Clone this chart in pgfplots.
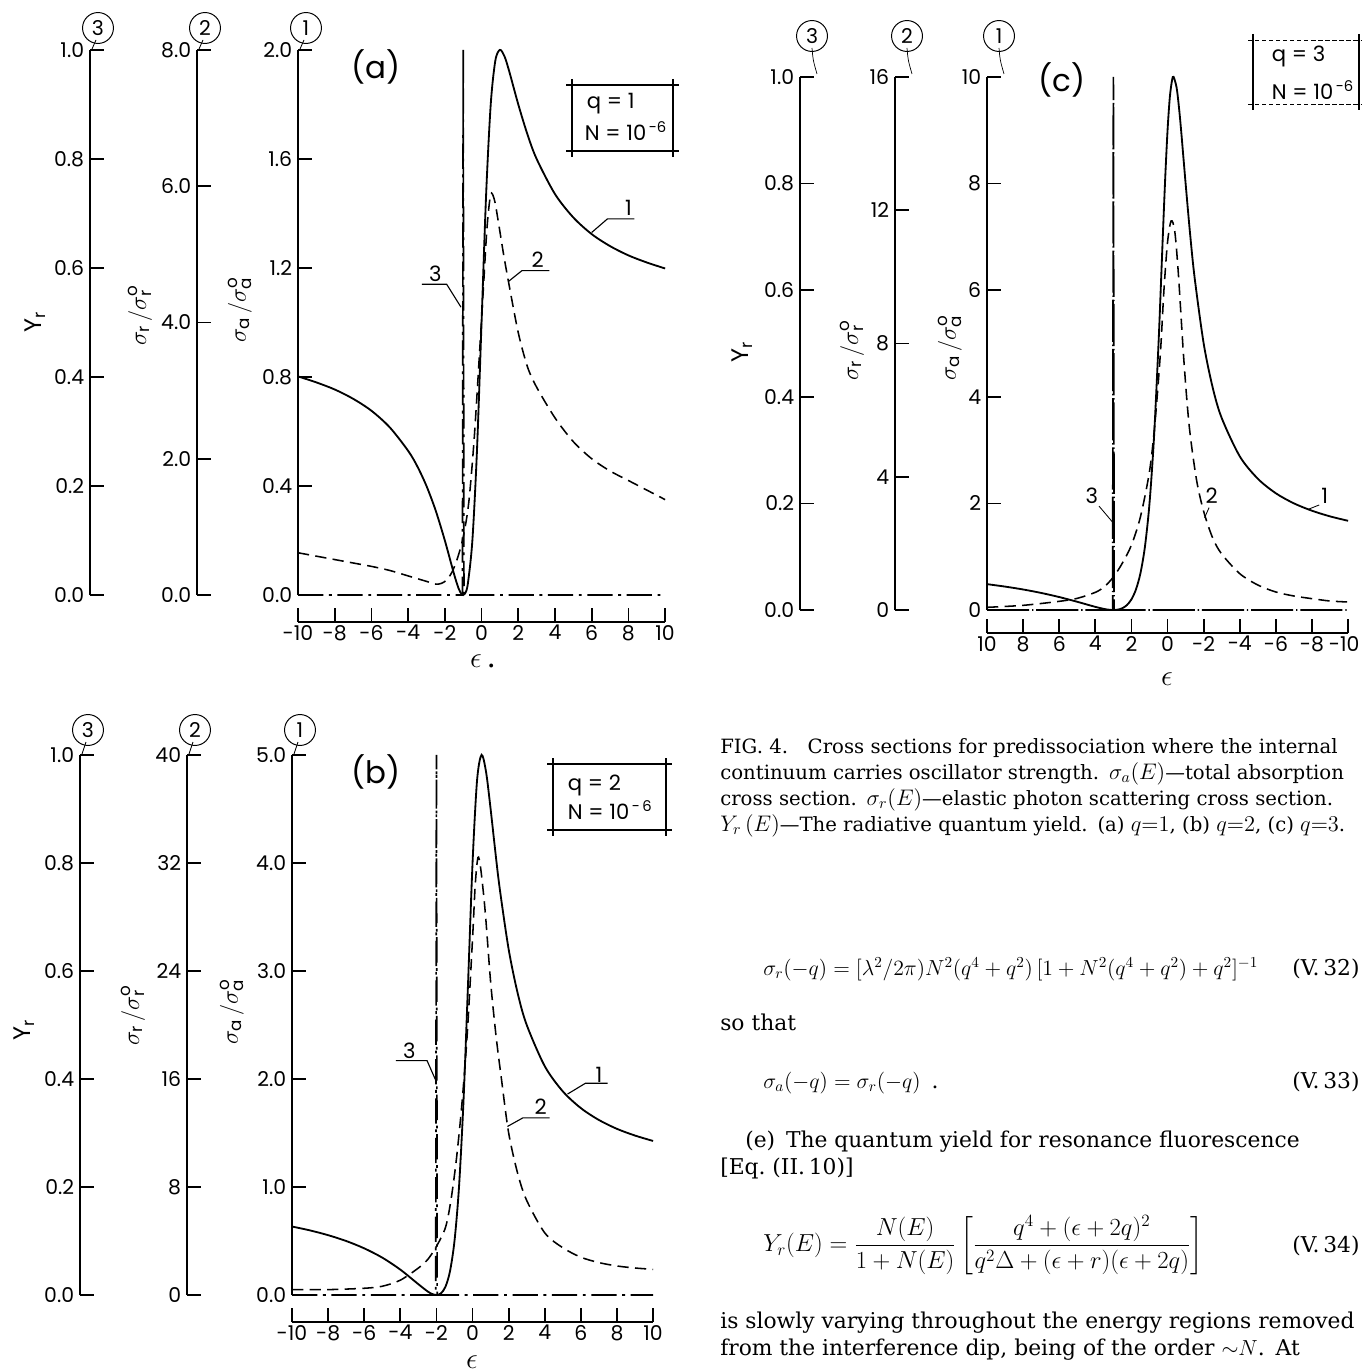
\RequirePackage{fix-cm}
\documentclass[border=0pt]{standalone}
\usepackage{amsmath}
\usepackage{pgfplots}
\pgfplotsset{compat=1.18}
\usepackage{fontspec}
\setmainfont{DejaVu Serif}
\newfontfamily\lf{Poppins}
\newcommand\tl{\lf\fontsize{14.5}{16}\selectfont}
\newcommand\cl{\lf\fontsize{15}{17}\selectfont}
\newcommand\yl{\lf\fontsize{17}{19}\selectfont}
\newcommand\ep{\fontsize{21}{21}\selectfont}
\newcommand\lgf{\lf\fontsize{15}{17}\selectfont}
\newcommand\pl{\lf\fontsize{22}{24}\selectfont}
\newcommand\capf{\fontsize{14}{17}\selectfont}
\newcommand\bd{\fontsize{15.5}{19}\selectfont}
\newcommand\m[1]{{\fontsize{16}{16}\selectfont$#1$}}

\pgfplotsset{
  base/.style={scale only axis, anchor=south west, clip=false, xmin=-10, xmax=10,
    axis line style={line width=1.2pt}, tick style={line width=1.2pt, black},
    major tick length=0.35cm,
    yticklabel style={font=\tl, inner sep=4pt},
    xticklabel style={font=\tl, inner sep=2pt}},
  ruler/.style={base, width=0.4cm, axis x line=none, axis y line*=left, ytick align=inside},
  main/.style={base, axis x line=none, axis y line*=left, ytick align=inside},
  over/.style={base, hide axis},
  xruler/.style={base, height=0.5cm, ymin=0, ymax=1, axis y line=none,
    axis x line*=bottom, xtick align=inside, xtick={-10,-8,...,10}, major tick length=0.34cm},
  c1/.style={black, line width=1.3pt, smooth},
  c2/.style={black, line width=1.1pt, smooth, dash pattern=on 8pt off 4.5pt},
  c3/.style={black, line width=1.2pt, dash pattern=on 18pt off 4pt on 2pt off 4pt},
}

\begin{document}
\begin{tikzpicture}[x=0.025cm, y=-0.025cm]
\path[use as bounding box] (0,0) rectangle (1362,1371);

% ---------------- panel (a) ----------------
\coordinate (a0) at (298,595);
\coordinate (a2) at (197,595);
\coordinate (a3) at (90,595);
\coordinate (ax) at (298,622);

\begin{axis}[ruler, at={(a3)}, height=13.625cm, ymin=0, ymax=1,
  ytick={0,0.2,0.4,0.6,0.8,1}, yticklabels={0.0,0.2,0.4,0.6,0.8,1.0}]
\addplot[draw=none] coordinates {(0,0)};
\end{axis}
\begin{axis}[ruler, at={(a2)}, height=13.625cm, ymin=0, ymax=8,
  ytick={0,2,4,6,8}, yticklabels={0.0,2.0,4.0,6.0,8.0}]
\addplot[draw=none] coordinates {(0,0)};
\end{axis}
\begin{axis}[xruler, at={(ax)}, width=9.175cm,
  xticklabels={-10,-8,-6,-4,-2,0,2,4,6,8,10}]
\addplot[draw=none] coordinates {(0,0)};
\end{axis}
\begin{axis}[over, at={(a0)}, width=9.175cm, height=13.625cm, ymin=0, ymax=1]
\addplot[c3] coordinates {(-10,0) (-1.04,0) (-1,1) (-0.96,0) (10,0)};
\end{axis}
\begin{axis}[over, at={(a0)}, width=9.175cm, height=13.625cm, ymin=0, ymax=8]
\addplot[c2] coordinates {(-10,0.62) (-9,0.57) (-8,0.52) (-7,0.47) (-6,0.42) (-5,0.36) (-4,0.28) (-3,0.20) (-2.5,0.16) (-2.2,0.17) (-1.9,0.22) (-1.6,0.34) (-1.3,0.55) (-1,0.85) (-0.7,1.35) (-0.4,2.3) (-0.1,3.6) (0.1,4.5) (0.3,5.4) (0.5,5.88) (0.7,5.8) (0.9,5.5) (1.2,5.0) (1.5,4.55) (2,3.85) (2.5,3.35) (3,3.05) (4,2.6) (5,2.25) (6,2.0) (7,1.82) (8,1.68) (9,1.54) (10,1.40)};
\end{axis}
\begin{axis}[main, at={(a0)}, width=9.175cm, height=13.625cm, ymin=0, ymax=2,
  ytick={0,0.4,0.8,1.2,1.6,2}, yticklabels={0.0,0.4,0.8,1.2,1.6,2.0}]
\addplot[c1] coordinates {(-10,0.802) (-9,0.780) (-8,0.754) (-7,0.720) (-6,0.676) (-5,0.615) (-4,0.529) (-3.5,0.472) (-3,0.400) (-2.5,0.310) (-2,0.200) (-1.5,0.077) (-1.25,0.024) (-1.1,0.0045) (-1,0) (-0.9,0.0055) (-0.75,0.040) (-0.5,0.200) (-0.25,0.529) (0,1) (0.25,1.471) (0.5,1.8) (0.75,1.96) (1,2) (1.25,1.976) (1.5,1.923) (2,1.8) (2.5,1.690) (3,1.6) (4,1.471) (5,1.385) (6,1.324) (7,1.28) (8,1.246) (9,1.220) (10,1.198)};
\node[font=\cl] at (axis cs:-2.52,1.18) {3};
\draw[line width=0.8pt] (axis cs:-3.25,1.14) -- (axis cs:-1.9,1.14) -- (axis cs:-1.12,1.056);
\node[font=\cl] at (axis cs:3.06,1.23) {2};
\draw[line width=0.8pt] (axis cs:3.7,1.19) -- (axis cs:2.2,1.19) -- (axis cs:1.46,1.15);
\node[font=\cl] at (axis cs:8.0,1.42) {1};
\draw[line width=0.8pt] (axis cs:8.33,1.38) -- (axis cs:6.86,1.38) -- (axis cs:6.0,1.33);
\end{axis}

\node[font=\pl] at (376,67) {(a)};
\draw[line width=1.1pt] (566,85)--(679,85) (566,151)--(679,151) (572,79)--(572,157) (673,79)--(673,157);
\node[font=\lgf, anchor=west] at (582,104) {q = 1};
\node[font=\lgf, anchor=west] at (580,131) {N = 10\textsuperscript{\,-6}};
\node[font=\yl, rotate=90] at (35,322) {Y\textsubscript{r}};
\node[font=\yl, rotate=90] at (140,315) {$\sigma_{\text{r}}\,/\sigma_{\text{r}}^{\text{o}}$};
\node[font=\yl, rotate=90] at (240,310) {$\sigma_{\text{a}}\,/\sigma_{\text{a}}^{\text{o}}$};
\node[font=\ep, inner sep=0, anchor=base] at (483,667) {$\epsilon$\,.};
\foreach \x/\n in {90/3,197/2,298/1} {
  \node[draw, circle, line width=0.7pt, inner sep=1pt, minimum size=22, font=\tl] at (\x+8,28) {\n};
  \draw[line width=0.6pt] (\x+6,40) -- (\x+2,49);
}

% ---------------- panel (b) ----------------
\coordinate (b0) at (292,1295);
\coordinate (b2) at (187,1295);
\coordinate (b3) at (80,1295);
\coordinate (bx) at (292,1322);

\begin{axis}[ruler, at={(b3)}, height=13.5cm, ymin=0, ymax=1,
  ytick={0,0.2,0.4,0.6,0.8,1}, yticklabels={0.0,0.2,0.4,0.6,0.8,1.0}]
\addplot[draw=none] coordinates {(0,0)};
\end{axis}
\begin{axis}[ruler, at={(b2)}, height=13.5cm, ymin=0, ymax=40,
  ytick={0,8,16,24,32,40}, yticklabels={0,8,16,24,32,40}]
\addplot[draw=none] coordinates {(0,0)};
\end{axis}
\begin{axis}[xruler, at={(bx)}, width=9.025cm,
  xticklabels={-10,-8,-6,-4,-2,0,2,4,6,8,10}]
\addplot[draw=none] coordinates {(0,0)};
\end{axis}
\begin{axis}[over, at={(b0)}, width=9.025cm, height=13.5cm, ymin=0, ymax=1]
\addplot[c3] coordinates {(-10,0) (-2.04,0) (-2,1) (-1.96,0) (10,0)};
\end{axis}
\begin{axis}[over, at={(b0)}, width=9.025cm, height=13.5cm, ymin=0, ymax=40]
\addplot[c2] coordinates {(-10,0.4) (-8,0.4) (-6,0.5) (-5,0.65) (-4,1.1) (-3,2.0) (-2.5,2.6) (-2,3.6) (-1.5,5.0) (-1.2,7.0) (-0.9,10) (-0.6,14) (-0.3,19.2) (0,26.4) (0.15,30.4) (0.3,32.4) (0.45,31.6) (0.7,28.4) (1,23.2) (1.3,19.2) (1.6,16.0) (2,12.0) (2.5,9.0) (3,7.0) (4,4.6) (5,3.5) (6,2.8) (7,2.4) (8,2.15) (9,2.0) (10,1.9)};
\end{axis}
\begin{axis}[main, at={(b0)}, width=9.025cm, height=13.5cm, ymin=0, ymax=5,
  ytick={0,1,2,3,4,5}, yticklabels={0.0,1.0,2.0,3.0,4.0,5.0}]
\addplot[c1] coordinates {(-10,0.634) (-9,0.598) (-8,0.554) (-7,0.5) (-6,0.432) (-5,0.346) (-4,0.235) (-3,0.1) (-2.5,0.0345) (-2.25,0.0103) (-2,0) (-1.75,0.0154) (-1.5,0.077) (-1.25,0.2195) (-1,0.5) (-0.75,1) (-0.5,1.8) (-0.25,2.882) (0,4) (0.25,4.765) (0.5,5) (0.75,4.84) (1,4.5) (1.25,4.122) (1.5,3.769) (2,3.2) (2.5,2.793) (3,2.5) (4,2.118) (5,1.885) (6,1.730) (7,1.62) (8,1.538) (9,1.476) (10,1.426)};
\node[font=\cl] at (axis cs:-3.5,2.26) {3};
\draw[line width=0.8pt] (axis cs:-4.25,2.17) -- (axis cs:-2.52,2.17) -- (axis cs:-2.02,1.98);
\node[font=\cl] at (axis cs:3.78,1.74) {2};
\draw[line width=0.8pt] (axis cs:4.27,1.64) -- (axis cs:2.79,1.64) -- (axis cs:1.93,1.56);
\node[font=\cl] at (axis cs:7.0,2.04) {1};
\draw[line width=0.8pt] (axis cs:7.48,1.96) -- (axis cs:6.25,1.96) -- (axis cs:5.26,1.86);
\end{axis}

\node[font=\pl] at (376,772) {(b)};
\draw[line width=1.1pt] (547,764)--(672,764) (547,830)--(672,830) (553,758)--(553,836) (666,758)--(666,836);
\node[font=\lgf, anchor=west] at (563,785) {q = 2};
\node[font=\lgf, anchor=west] at (563,810) {N = 10\textsuperscript{\,-\,6}};
\node[font=\yl, rotate=90] at (24,1030) {Y\textsubscript{r}};
\node[font=\yl, rotate=90] at (133,1015) {$\sigma_{\text{r}}\,/\sigma_{\text{r}}^{\text{o}}$};
\node[font=\yl, rotate=90] at (232,1012) {$\sigma_{\text{a}}\,/\sigma_{\text{a}}^{\text{o}}$};
\node[font=\ep, inner sep=0, anchor=base] at (472,1368) {$\epsilon$};
\foreach \x/\n in {80/3,187/2,292/1} {
  \node[draw, circle, line width=0.7pt, inner sep=1pt, minimum size=22, font=\tl] at (\x+8,730) {\n};
  \draw[line width=0.6pt] (\x+6,742) -- (\x+2,754);
}

% ---------------- panel (c) ----------------
\coordinate (c0) at (987,610);
\coordinate (c2) at (895,610);
\coordinate (c3) at (800,610);
\coordinate (cx) at (987,633);

\begin{axis}[ruler, at={(c3)}, height=13.325cm, ymin=0, ymax=1,
  ytick={0,0.2,0.4,0.6,0.8,1}, yticklabels={0.0,0.2,0.4,0.6,0.8,1.0}]
\addplot[draw=none] coordinates {(0,0)};
\end{axis}
\begin{axis}[ruler, at={(c2)}, height=13.325cm, ymin=0, ymax=16,
  ytick={0,4,8,12,16}, yticklabels={0,4,8,12,16}]
\addplot[draw=none] coordinates {(0,0)};
\end{axis}
\begin{axis}[xruler, at={(cx)}, width=9.025cm, x dir=reverse,
  xticklabels={{},-8,-6,-4,-2,0,2,4,6,8,10},
  extra x ticks={-10}, extra x tick labels={-10},
  extra x tick style={xticklabel style={xshift=-0.1cm}}]
\addplot[draw=none] coordinates {(0,0)};
\end{axis}
\begin{axis}[over, at={(c0)}, width=9.025cm, height=13.325cm, x dir=reverse, ymin=0, ymax=1]
\addplot[c3, dash pattern=on 30pt off 2pt on 1pt off 2pt] coordinates {(10,0) (3.04,0) (3,1) (2.96,0) (-10,0)};
\end{axis}
\begin{axis}[over, at={(c0)}, width=9.025cm, height=13.325cm, x dir=reverse, ymin=0, ymax=16]
\addplot[c2] coordinates {(10,0.08) (8,0.14) (6,0.26) (5,0.35) (4,0.53) (3.5,0.7) (3,0.99) (2.5,1.41) (2,1.95) (1.5,2.8) (1,4.16) (0.7,5.6) (0.4,7.68) (0.2,9.6) (0,11.04) (-0.2,11.68) (-0.4,11.36) (-0.6,10.08) (-0.9,7.52) (-1.2,5.52) (-1.6,3.92) (-2,2.96) (-2.5,2.16) (-3,1.68) (-4,1.09) (-5,0.75) (-6,0.54) (-7,0.42) (-8,0.34) (-9,0.27) (-10,0.24)};
\end{axis}
\begin{axis}[main, at={(c0)}, width=9.025cm, height=13.325cm, x dir=reverse, ymin=0, ymax=10,
  ytick={0,2,4,6,8,10}, yticklabels={0,2,4,6,8,10}]
\addplot[c1] coordinates {(10,0.485) (9,0.439) (8,0.385) (7,0.32) (6,0.243) (5,0.154) (4,0.0588) (3.5,0.0189) (3.25,0.0054) (3,0) (2.75,0.0073) (2.5,0.0345) (2.25,0.0928) (2,0.2) (1.75,0.385) (1.5,0.692) (1.25,1.195) (1,2) (0.75,3.24) (0.5,5) (0.375,6.041) (0.25,7.118) (0.125,8.139) (0,9) (-0.125,9.616) (-0.25,9.941) (-0.333,10) (-0.5,9.8) (-0.625,9.449) (-0.75,9.0) (-1,8) (-1.25,7.049) (-1.5,6.231) (-2,5) (-2.5,4.172) (-3,3.6) (-4,2.882) (-5,2.462) (-6,2.189) (-7,2) (-8,1.862) (-9,1.756) (-10,1.673)};
\node[font=\cl] at (axis cs:4.2,2.15) {3};
\draw[line width=0.6pt] (axis cs:3.8,1.95) -- (axis cs:3.05,1.65);
\node[font=\cl] at (axis cs:-2.45,2.15) {2};
\draw[line width=0.6pt] (axis cs:-2.3,1.92) -- (axis cs:-2.05,1.73);
\node[font=\cl] at (axis cs:-8.7,2.15) {1};
\draw[line width=0.6pt] (axis cs:-8.4,1.97) -- (axis cs:-7.8,1.89);
\end{axis}

\node[font=\pl] at (1062,80) {(c)};
\draw[line width=1.0pt] (1253,34)--(1253,110) (1359,34)--(1359,110);
\draw[line width=0.6pt, dash pattern=on 3pt off 2pt] (1248,40)--(1362,40) (1248,104)--(1362,104);
\node[font=\lgf, anchor=west] at (1267,56) {q = 3};
\node[font=\lgf, anchor=west] at (1267,90) {N = 10\textsuperscript{\,-6}};
\node[font=\yl, rotate=90] at (742,352) {Y\textsubscript{r}};
\node[font=\yl, rotate=90] at (852,350) {$\sigma_{\text{r}}\,/\sigma_{\text{r}}^{\text{o}}$};
\node[font=\yl, rotate=90] at (950,348) {$\sigma_{\text{a}}\,/\sigma_{\text{a}}^{\text{o}}$};
\node[font=\ep, inner sep=0, anchor=base] at (1167,685) {$\epsilon$};
\foreach \x/\n in {800/3,895/2,987/1} {
  \node[draw, circle, line width=0.7pt, inner sep=1pt, minimum size=22, font=\tl] at (\x+12,36) {\n};
  \draw[line width=0.5pt] (\x+12,48) .. controls (\x+13,60) .. (\x+17,74);
}

% ---------------- caption and text ----------------
\node[anchor=base west, inner sep=0, font=\capf] at (720,753) {FIG.~4.\quad Cross sections for predissociation where the internal};
\node[anchor=base west, inner sep=0, font=\capf] at (720,779) {continuum carries oscillator strength.\enspace \m{\sigma_a(E)}---total absorption};
\node[anchor=base west, inner sep=0, font=\capf] at (720,805) {cross section.\enspace \m{\sigma_r(E)}---elastic photon scattering cross section.};
\node[anchor=base west, inner sep=0, font=\capf] at (720,831) {\m{Y_r\,(E)}---The radiative quantum yield.\enspace (a)~\m{q{=}1}, (b)~\m{q{=}2}, (c)~\m{q{=}3}.};

\node[anchor=base west, inner sep=0, font=\bd] at (763,975) {$\sigma_r(-q)=[\lambda^2/2\pi)N^2(q^4+q^2)\,[1+N^2(q^4+q^2)+q^2]^{-1}$};
\node[anchor=base west, inner sep=0, font=\bd] at (1292,975) {(V.\,32)};
\node[anchor=base west, inner sep=0, font=\bd] at (720,1030) {so that};
\node[anchor=base west, inner sep=0, font=\bd] at (763,1088) {$\sigma_a(-q)=\sigma_r(-q)$\enspace.};
\node[anchor=base west, inner sep=0, font=\bd] at (1292,1088) {(V.\,33)};
\node[anchor=base west, inner sep=0, font=\bd] at (745,1147) {(e)\enspace The quantum yield for resonance fluorescence};
\node[anchor=base west, inner sep=0, font=\bd] at (720,1174) {[Eq.~(II.\,10)]};
\node[anchor=west, inner sep=0, font=\fontsize{17.5}{20}\selectfont] at (763,1245) {$\displaystyle Y_r(E)=\frac{N(E)}{1+N(E)}\left[\frac{q^4+(\epsilon+2q)^2}{q^2\Delta+(\epsilon+r)(\epsilon+2q)}\right]$};
\node[anchor=base west, inner sep=0, font=\bd] at (1292,1252) {(V.\,34)};
\node[anchor=base west, inner sep=0, font=\bd] at (720,1328) {is slowly varying throughout the energy regions removed};
\node[anchor=base west, inner sep=0, font=\bd] at (720,1355) {from the interference dip, being of the order ${\sim}N$.\enspace At};
\end{tikzpicture}
\end{document}
